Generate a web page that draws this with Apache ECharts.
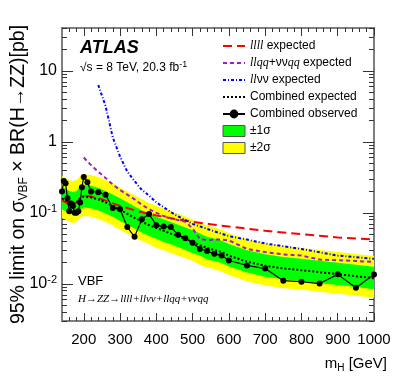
<!DOCTYPE html>
<html>
<head>
<meta charset="utf-8">
<script src="https://cdn.jsdelivr.net/npm/echarts@6/dist/echarts.min.js"></script>
<style>
  html, body { margin: 0; padding: 0; background: #fff; }
  #chart { width: 394px; height: 382px; }
</style>
</head>
<body>
<div id="chart"></div>
<script>
// observed combined limit
var massObs = [140, 145, 150, 155, 160, 165, 170, 175, 180, 185, 190, 195, 200, 210, 220, 240, 260, 280, 300, 320, 340, 360, 380, 400, 420, 440, 460, 480, 500, 520, 540, 560, 580, 600, 650, 700, 750, 800, 850, 900, 950, 1000];
var obsLimit = [0.2, 0.28, 0.26, 0.16, 0.105, 0.135, 0.125, 0.1, 0.1, 0.105, 0.14, 0.23, 0.32, 0.27, 0.2, 0.195, 0.18, 0.117, 0.112, 0.063, 0.046, 0.081, 0.096, 0.067, 0.064, 0.063, 0.049, 0.044, 0.038, 0.031, 0.029, 0.0265, 0.025, 0.0213, 0.0182, 0.0164, 0.0111, 0.0107, 0.0101, 0.0136, 0.0088, 0.0135];

// combined expected and bands
var massExp = [140, 150, 160, 170, 180, 190, 200, 220, 240, 260, 280, 300, 320, 340, 360, 380, 400, 420, 440, 460, 480, 500, 520, 540, 560, 580, 600, 650, 700, 750, 800, 850, 900, 950, 1000];
var expComb = [0.16, 0.15, 0.14, 0.135, 0.14, 0.16, 0.17, 0.165, 0.155, 0.14, 0.125, 0.11, 0.097, 0.085, 0.075, 0.067, 0.061, 0.056, 0.051, 0.047, 0.043, 0.039, 0.035, 0.032, 0.03, 0.028, 0.025, 0.0205, 0.018, 0.0165, 0.0156, 0.0146, 0.0137, 0.0128, 0.012];
var sig1Up = [0.232, 0.218, 0.203, 0.196, 0.203, 0.232, 0.247, 0.24, 0.225, 0.203, 0.181, 0.16, 0.141, 0.123, 0.109, 0.097, 0.088, 0.081, 0.074, 0.068, 0.062, 0.057, 0.051, 0.046, 0.0435, 0.0406, 0.0363, 0.0297, 0.0261, 0.0239, 0.0226, 0.0212, 0.0199, 0.0186, 0.0174];
var sig1Dn = [0.112, 0.105, 0.098, 0.095, 0.098, 0.112, 0.119, 0.116, 0.108, 0.098, 0.088, 0.077, 0.068, 0.06, 0.053, 0.047, 0.043, 0.039, 0.036, 0.033, 0.03, 0.027, 0.025, 0.022, 0.021, 0.0196, 0.0175, 0.0144, 0.0126, 0.0116, 0.0109, 0.0102, 0.0096, 0.009, 0.0084];
var sig2Up = [0.33, 0.31, 0.29, 0.28, 0.29, 0.33, 0.35, 0.34, 0.32, 0.29, 0.26, 0.227, 0.2, 0.175, 0.155, 0.138, 0.126, 0.115, 0.105, 0.097, 0.089, 0.08, 0.072, 0.066, 0.062, 0.058, 0.0515, 0.0422, 0.037, 0.034, 0.032, 0.03, 0.0282, 0.0264, 0.0247];
var sig2Dn = [0.085, 0.08, 0.074, 0.072, 0.074, 0.085, 0.09, 0.088, 0.082, 0.074, 0.066, 0.058, 0.051, 0.045, 0.04, 0.036, 0.032, 0.03, 0.027, 0.025, 0.023, 0.021, 0.0185, 0.017, 0.016, 0.0148, 0.0133, 0.0109, 0.0095, 0.0087, 0.0083, 0.0077, 0.0073, 0.0068, 0.0064];

// per-channel expected limits
var mass4l = [140, 150, 160, 170, 180, 190, 200, 220, 250, 300, 350, 400, 450, 500, 550, 600, 700, 800, 900, 1000];
var exp4l = [0.15, 0.14, 0.13, 0.13, 0.14, 0.16, 0.175, 0.17, 0.155, 0.125, 0.105, 0.092, 0.082, 0.075, 0.069, 0.064, 0.056, 0.05, 0.045, 0.042];
var massQQ = [200, 220, 240, 260, 280, 300, 320, 340, 360, 380, 400, 420, 440, 460, 480, 500, 520, 540, 560, 580, 600, 650, 700, 750, 800, 850, 900, 950, 1000];
var expQQ = [0.6, 0.47, 0.38, 0.31, 0.25, 0.21, 0.18, 0.155, 0.13, 0.113, 0.1, 0.09, 0.084, 0.079, 0.075, 0.06, 0.043, 0.041, 0.042, 0.042, 0.041, 0.031, 0.028, 0.026, 0.025, 0.022, 0.0215, 0.021, 0.0204];
var massVV = [240, 260, 280, 300, 320, 340, 360, 380, 400, 450, 500, 550, 600, 650, 700, 800, 900, 1000];
var expVV = [6.3, 3.2, 1.15, 0.62, 0.38, 0.28, 0.21, 0.175, 0.14, 0.095, 0.07, 0.057, 0.047, 0.042, 0.037, 0.031, 0.025, 0.0225];

// tick values
var xMajor = [200, 300, 400, 500, 600, 700, 800, 900, 1000];
var xMinor = [160, 180, 220, 240, 260, 280, 320, 340, 360, 380, 420, 440, 460, 480, 520, 540, 560, 580, 620, 640, 660, 680, 720, 740, 760, 780, 820, 840, 860, 880, 920, 940, 960, 980];
var yMajor = [0.01, 0.1, 1, 10];
var yMinor = [0.003, 0.004, 0.005, 0.006, 0.007, 0.008, 0.009, 0.02, 0.03, 0.04, 0.05, 0.06, 0.07, 0.08, 0.09, 0.2, 0.3, 0.4, 0.5, 0.6, 0.7, 0.8, 0.9, 2, 3, 4, 5, 6, 7, 8, 9, 20, 30, 40];

var font = 'Liberation Sans';
var frame = '#7f7f7f';

function pairs(xs, ys) {
  return xs.map(function(x, i) { return [x, ys[i]]; });
}

function xAx(pos, ticks, len, extra) {
  return Object.assign({
    type: 'value', min: 140, max: 1000, position: pos,
    axisLine: { show: true, onZero: false, lineStyle: { color: frame, width: 2 } },
    axisTick: { inside: true, length: len, customValues: ticks, lineStyle: { color: '#333' } },
    axisLabel: { show: false },
    splitLine: { show: false }
  }, extra || {});
}

function yAx(pos, ticks, len, extra) {
  return Object.assign({
    type: 'log', logBase: 10, min: 0.003, max: 40, position: pos,
    axisLine: { show: true, lineStyle: { color: frame, width: 2 } },
    axisTick: { inside: true, length: len, customValues: ticks, lineStyle: { color: '#333' } },
    axisLabel: { show: false },
    splitLine: { show: false }
  }, extra || {});
}

function band(name, up, dn, color) {
  return {
    name: name,
    type: 'custom',
    clip: true,
    z: 1,
    itemStyle: { color: color },
    data: [[massExp[0], expComb[0]]],
    renderItem: function(params, api) {
      var pts = [];
      for (var i = 0; i < massExp.length; i++) pts.push(api.coord([massExp[i], up[i]]));
      for (var j = massExp.length - 1; j >= 0; j--) pts.push(api.coord([massExp[j], dn[j]]));
      return { type: 'polygon', shape: { points: pts }, style: { fill: color } };
    }
  };
}

var legendText = {
  'llll expected': '{i|llll} expected',
  'llqq+ννqq expected': '{i|llqq}+νν{i|qq} expected',
  'llνν expected': '{i|ll}νν expected',
  'Combined expected': 'Combined expected',
  'Combined observed': 'Combined observed',
  '±1σ': '±1σ',
  '±2σ': '±2σ'
};
var noDot = { opacity: 0 };

var chart = echarts.init(document.getElementById('chart'));
chart.setOption({
  animation: false,
  textStyle: { fontFamily: font },
  grid: { left: 62, right: 20, top: 28, bottom: 61, outerBoundsMode: 'none', containLabel: false },
  xAxis: [
    xAx('bottom', xMajor, 8, {
      axisLabel: {
        show: true, customValues: xMajor, color: '#000', fontSize: 15, margin: 11, fontFamily: font,
        formatter: function(v) { return String(v); }
      },
      name: 'm{sub|H} [GeV]',
      nameLocation: 'end',
      nameGap: 13,
      nameMoveOverlap: false,
      nameTextStyle: {
        color: '#000', fontSize: 15, fontFamily: font, align: 'right', verticalAlign: 'top', padding: [34, 0, 0, 0],
        rich: { sub: { fontSize: 10, fontFamily: font, padding: [8, 0, 0, 0] } }
      }
    }),
    xAx('bottom', xMinor, 4),
    xAx('top', xMajor, 8),
    xAx('top', xMinor, 4)
  ],
  yAxis: [
    yAx('left', yMajor, 11, {
      axisLabel: {
        show: true, customValues: yMajor, color: '#000', fontSize: 16, margin: 5, fontFamily: font,
        formatter: function(v) {
          var e = Math.round(Math.log10(v));
          if (e === 1) return '10';
          if (e === 0) return '1';
          return '10{sup|' + e + '}';
        },
        rich: { sup: { fontSize: 11, fontFamily: font, padding: [0, 0, 8, 0] } }
      },
      name: '95% limit on σ{sub|VBF} × BR(H→ZZ)[pb]',
      nameLocation: 'middle',
      nameRotate: 90,
      nameGap: 32,
      nameMoveOverlap: false,
      nameTextStyle: {
        color: '#000', fontSize: 19.5, fontFamily: font,
        rich: { sub: { fontSize: 12, fontFamily: font, padding: [11, 0, 0, 0] } }
      }
    }),
    yAx('left', yMinor, 5),
    yAx('right', yMajor, 11),
    yAx('right', yMinor, 5)
  ],
  legend: {
    orient: 'vertical',
    left: 217,
    top: 35,
    itemWidth: 22,
    itemHeight: 11,
    itemGap: 5,
    textStyle: {
      color: '#000', fontSize: 12, lineHeight: 11, fontFamily: font,
      rich: { i: { fontFamily: 'Liberation Serif', fontStyle: 'italic', fontSize: 12, lineHeight: 11 } }
    },
    formatter: function(n) { return legendText[n]; },
    data: [
      { name: 'llll expected', itemStyle: noDot },
      { name: 'llqq+ννqq expected', itemStyle: noDot },
      { name: 'llνν expected', itemStyle: noDot },
      { name: 'Combined expected', itemStyle: noDot },
      { name: 'Combined observed' },
      { name: '±1σ', icon: 'rect', itemStyle: { borderColor: '#555', borderWidth: 1 } },
      { name: '±2σ', icon: 'rect', itemStyle: { borderColor: '#555', borderWidth: 1 } }
    ]
  },
  graphic: [
    { type: 'text', left: 80, top: 39, style: { text: 'ATLAS', font: 'italic bold 18px "Liberation Sans"', fill: '#000' } },
    { type: 'text', left: 80, top: 60, style: { text: '√s = 8 TeV, 20.3 fb{sup|-1}', font: '12px "Liberation Sans"', fill: '#000', rich: { sup: { fontSize: 9, fontFamily: font, padding: [0, 0, 6, 0] } } } },
    { type: 'text', left: 78, top: 275, style: { text: 'VBF', font: '13px "Liberation Sans"', fill: '#000' } },
    { type: 'text', left: 78, top: 294, style: { text: 'H→ZZ→llll+llνν+llqq+ννqq', font: 'italic 11px "Liberation Serif"', fill: '#000' } }
  ],
  series: [
    band('±2σ', sig2Up, sig2Dn, '#ffff00'),
    band('±1σ', sig1Up, sig1Dn, '#00ff00'),
    {
      name: 'llll expected', type: 'line', symbol: 'none', z: 3,
      data: pairs(mass4l, exp4l),
      itemStyle: { color: '#ff0000' },
      lineStyle: { color: '#ff0000', width: 2, type: [9, 5] }
    },
    {
      name: 'llqq+ννqq expected', type: 'line', symbol: 'none', z: 3,
      data: pairs(massQQ, expQQ),
      itemStyle: { color: '#a01ec0' },
      lineStyle: { color: '#a01ec0', width: 2, type: [4, 3] }
    },
    {
      name: 'llνν expected', type: 'line', symbol: 'none', z: 3,
      data: pairs(massVV, expVV),
      itemStyle: { color: '#0000ff' },
      lineStyle: { color: '#0000ff', width: 2, type: [3, 2, 1, 2] }
    },
    {
      name: 'Combined expected', type: 'line', symbol: 'none', z: 4,
      data: pairs(massExp, expComb),
      itemStyle: { color: '#000' },
      lineStyle: { color: '#000', width: 2, type: [2, 2] }
    },
    {
      name: 'Combined observed', type: 'line', symbol: 'circle', symbolSize: 6, z: 5,
      data: pairs(massObs, obsLimit),
      itemStyle: { color: '#000' },
      lineStyle: { color: '#000', width: 1.2 }
    }
  ]
});
</script>
</body>
</html>
